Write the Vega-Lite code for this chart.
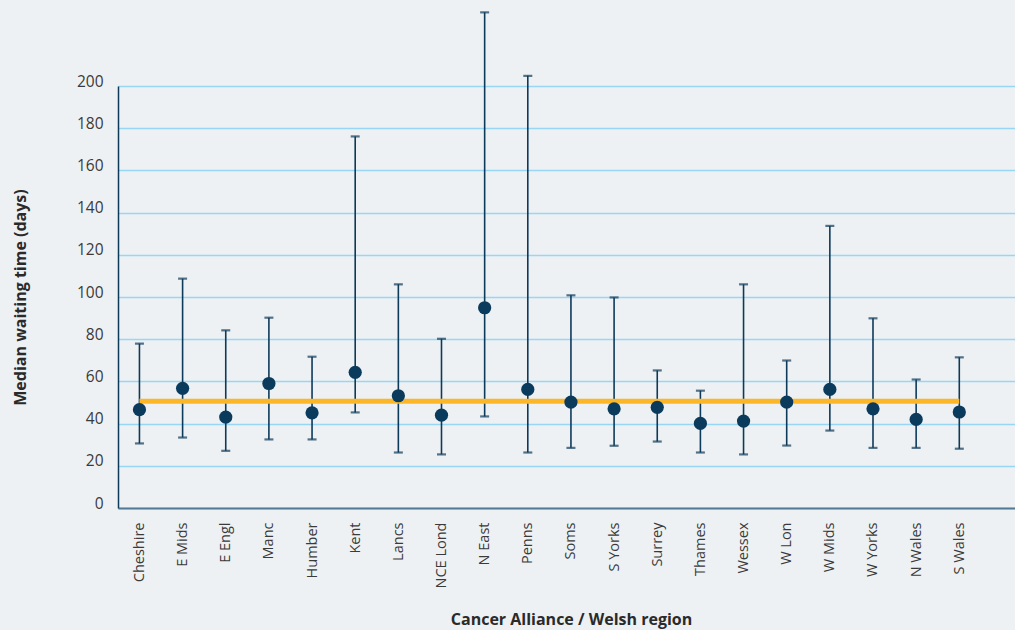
{
  "$schema": "https://vega.github.io/schema/vega-lite/v6.json",
  "autosize": "none",
  "width": 897,
  "height": 422,
  "padding": {"left": 118, "top": 86, "right": 0, "bottom": 122},
  "background": "#eef1f3",
  "config": {
    "view": {"stroke": null},
    "font": "Open Sans"
  },
  "datasets": {
    "regions": [
      {"region": "Cheshire", "median": 46.6, "lo": 30.6, "hi": 77.9},
      {"region": "E Mids", "median": 56.7, "lo": 33.4, "hi": 108.7},
      {"region": "E Engl", "median": 43.1, "lo": 27.1, "hi": 84.2},
      {"region": "Manc", "median": 59.0, "lo": 32.5, "hi": 90.2},
      {"region": "Humber", "median": 45.1, "lo": 32.5, "hi": 71.7},
      {"region": "Kent", "median": 64.3, "lo": 45.3, "hi": 176.1},
      {"region": "Lancs", "median": 53.2, "lo": 26.3, "hi": 106.0},
      {"region": "NCE Lond", "median": 44.0, "lo": 25.4, "hi": 80.2},
      {"region": "N East", "median": 94.9, "lo": 43.4, "hi": 234.9},
      {"region": "Penns", "median": 56.2, "lo": 26.3, "hi": 204.8},
      {"region": "Soms", "median": 50.2, "lo": 28.5, "hi": 100.8},
      {"region": "S Yorks", "median": 47.0, "lo": 29.5, "hi": 99.8},
      {"region": "Surrey", "median": 47.7, "lo": 31.5, "hi": 65.2},
      {"region": "Thames", "median": 40.1, "lo": 26.3, "hi": 55.6},
      {"region": "Wessex", "median": 41.2, "lo": 25.4, "hi": 106.0},
      {"region": "W Lon", "median": 50.2, "lo": 29.6, "hi": 69.9},
      {"region": "W Mids", "median": 56.2, "lo": 36.7, "hi": 133.7},
      {"region": "W Yorks", "median": 47.0, "lo": 28.5, "hi": 89.9},
      {"region": "N Wales", "median": 42.0, "lo": 28.5, "hi": 60.9},
      {"region": "S Wales", "median": 45.5, "lo": 28.1, "hi": 71.4}
    ],
    "overall": [
      {"from": "Cheshire", "to": "S Wales", "value": 50.6}
    ]
  },
  "layer": [
    {
      "data": {"name": "regions"},
      "mark": {"type": "rule", "color": "#0e3a5a", "strokeWidth": 1.6},
      "encoding": {
        "x": {
          "field": "region",
          "type": "nominal",
          "sort": null,
          "scale": {
            "type": "point",
            "domain": ["Cheshire", "E Mids", "E Engl", "Manc", "Humber", "Kent", "Lancs", "NCE Lond", "N East", "Penns", "Soms", "S Yorks", "Surrey", "Thames", "Wessex", "W Lon", "W Mids", "W Yorks", "N Wales", "S Wales"],
            "padding": 0.894,
            "align": 0.278
          },
          "axis": {
            "title": "Cancer Alliance / Welsh region",
            "titleFont": "Open Sans",
            "titleFontSize": 16,
            "titleFontWeight": "bold",
            "titleColor": "#2a2a2a",
            "titleX": 453,
            "titleY": 111,
            "titleAnchor": null,
            "titleAlign": "center",
            "titleBaseline": "middle",
            "labelAngle": -90,
            "labelAlign": "right",
            "labelBaseline": "middle",
            "labelFontSize": 14.5,
            "labelColor": "#3a3a3a",
            "labelPadding": 14,
            "ticks": false,
            "domainColor": "#537a95",
            "domainWidth": 2,
            "grid": false
          }
        },
        "y": {
          "field": "lo",
          "type": "quantitative",
          "scale": {"domain": [0, 200], "nice": false, "zero": true},
          "axis": {
            "title": "Median waiting time (days)",
            "titleFont": "Open Sans",
            "titleFontSize": 16,
            "titleFontWeight": "bold",
            "titleColor": "#2a2a2a",
            "titleX": -98,
            "titleY": 211,
            "titleAngle": 270,
            "titleAlign": "center",
            "titleBaseline": "middle",
            "values": [0, 20, 40, 60, 80, 100, 120, 140, 160, 180, 200],
            "labelFontSize": 15.5,
            "labelColor": "#3a3a3a",
            "labelPadding": 15,
            "labelOffset": -5,
            "ticks": false,
            "domainColor": "#0e3a5a",
            "domainWidth": 1.5,
            "grid": true,
            "gridColor": "#97d6f5",
            "gridWidth": 1.6
          }
        },
        "y2": {"field": "hi"}
      }
    },
    {
      "data": {"name": "regions"},
      "mark": {"type": "tick", "orient": "horizontal", "color": "#0e3a5a", "size": 9, "thickness": 2.2},
      "encoding": {
        "x": {"field": "region", "type": "nominal", "sort": null},
        "y": {"field": "lo", "type": "quantitative"}
      }
    },
    {
      "data": {"name": "regions"},
      "mark": {"type": "tick", "orient": "horizontal", "color": "#0e3a5a", "size": 9, "thickness": 2.2},
      "encoding": {
        "x": {"field": "region", "type": "nominal", "sort": null},
        "y": {"field": "hi", "type": "quantitative"}
      }
    },
    {
      "data": {"name": "overall"},
      "mark": {"type": "rule", "color": "#fbb727", "strokeWidth": 5},
      "encoding": {
        "x": {"field": "from", "type": "nominal", "sort": null},
        "x2": {"field": "to"},
        "y": {"field": "value", "type": "quantitative"}
      }
    },
    {
      "data": {"name": "regions"},
      "mark": {"type": "circle", "color": "#0a3a5c", "opacity": 1, "size": 175},
      "encoding": {
        "x": {"field": "region", "type": "nominal", "sort": null},
        "y": {"field": "median", "type": "quantitative"}
      }
    }
  ]
}
